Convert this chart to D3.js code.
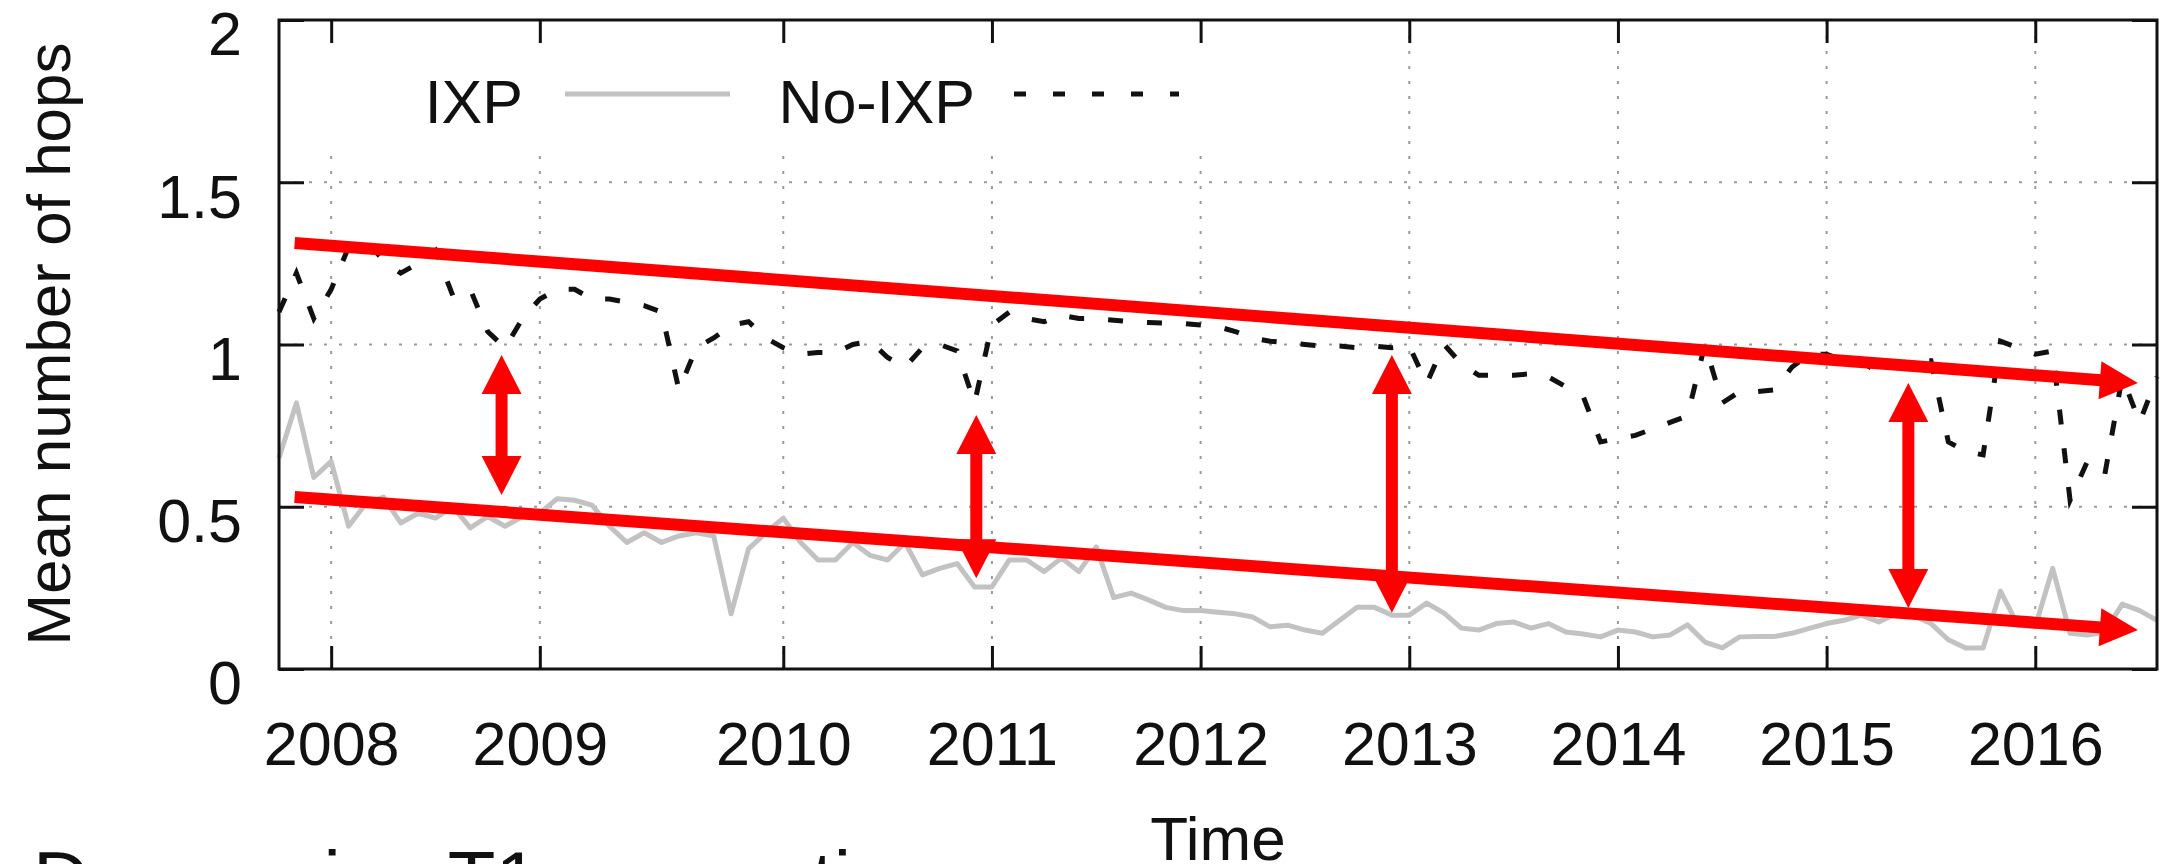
<!DOCTYPE html>
<html>
<head>
<meta charset="utf-8">
<script src="https://cdn.jsdelivr.net/npm/d3@7"></script>
<style>
  html, body { margin: 0; padding: 0; background: #fff; }
  svg { display: block; }
  text { font-family: "Liberation Sans", Arial, sans-serif; fill: #111; }
</style>
</head>
<body>
<div id="chart"></div>
<script>
// data (monthly samples, index 0 = left edge of plot)
const yearLabels = ["2008", "2009", "2010", "2011", "2012", "2013", "2014", "2015", "2016"];
const yearTickIdx = [3, 15, 29, 41, 53, 65, 77, 89, 101];
const yTicks = [0, 0.5, 1, 1.5, 2];
const yTickLabels = ["0", "0.5", "1", "1.5", "2"];
const seriesNames = ["IXP", "No-IXP"];

const ixp = [
    0.65, 0.82, 0.59, 0.64, 0.44, 0.51, 0.53, 0.45, 0.48, 0.465,
    0.50, 0.435, 0.47, 0.44, 0.47, 0.48, 0.525, 0.52, 0.505, 0.44,
    0.39, 0.42, 0.39, 0.41, 0.42, 0.41, 0.17, 0.37, 0.42, 0.465,
    0.39, 0.336, 0.336, 0.39, 0.35, 0.336, 0.39, 0.29, 0.31, 0.325,
    0.253, 0.253, 0.336, 0.336, 0.30, 0.342, 0.30, 0.376, 0.22, 0.234,
    0.213, 0.19, 0.18, 0.18, 0.175, 0.17, 0.16, 0.13, 0.135, 0.12,
    0.11, 0.15, 0.19, 0.19, 0.166, 0.166, 0.203, 0.172, 0.126, 0.12,
    0.14, 0.145, 0.126, 0.14, 0.114, 0.108, 0.099, 0.12, 0.114, 0.099,
    0.105, 0.136, 0.083, 0.065, 0.099, 0.10, 0.10, 0.11, 0.125, 0.14,
    0.15, 0.166, 0.145, 0.17, 0.165, 0.14, 0.09, 0.065, 0.065, 0.24,
    0.135, 0.13, 0.31, 0.11, 0.105, 0.114, 0.20, 0.18, 0.15
];

const noIxp = [
    1.10, 1.22, 1.08, 1.17, 1.30, 1.32, 1.26, 1.22, 1.25, 1.29,
    1.15, 1.17, 1.04, 0.99, 1.08, 1.14, 1.17, 1.17, 1.14, 1.14,
    1.13, 1.12, 1.10, 0.86, 0.99, 1.02, 1.06, 1.07, 1.02, 0.99,
    0.97, 0.975, 0.975, 1.00, 1.01, 0.96, 0.93, 0.99, 1.00, 0.98,
    0.82, 1.06, 1.10, 1.08, 1.07, 1.09, 1.08, 1.08, 1.075, 1.07,
    1.068, 1.066, 1.065, 1.06, 1.055, 1.04, 1.02, 1.01, 1.005, 1.00,
    0.995, 0.995, 0.99, 0.995, 0.99, 0.995, 0.88, 1.00, 0.94, 0.905,
    0.905, 0.905, 0.91, 0.90, 0.87, 0.84, 0.70, 0.71, 0.72, 0.74,
    0.76, 0.78, 1.00, 0.82, 0.855, 0.855, 0.86, 0.93, 0.97, 0.97,
    0.95, 0.95, 0.91, 0.94, 0.95, 0.95, 0.70, 0.67, 0.66, 1.01,
    0.99, 0.97, 0.98, 0.52, 0.64, 0.60, 0.90, 0.76, 0.90
];

// red annotations, in data units (x = sample index)
const trendArrows = [
    {x0: 0.9, y0: 1.313, x1: 106.9, y1: 0.881},
    {x0: 0.9, y0: 0.53, x1: 106.9, y1: 0.12}
];
const gapArrows = [
    {x: 12.8, top: 0.968, bottom: 0.536},
    {x: 40.1, top: 0.783, bottom: 0.28},
    {x: 64.0, top: 0.968, bottom: 0.173},
    {x: 93.7, top: 0.881, bottom: 0.188}
];

const bottomNote = "Decreasing T1 connections";

//setup
const W = 2161, H = 864;
const plot = {left: 279, right: 2157, top: 20, bottom: 669};
const fontSize = 61;

const svg = d3.select("#chart").append("svg")
    .attr("width", W)
    .attr("height", H);

const x = d3.scaleLinear().domain([0, ixp.length - 1]).range([plot.left, plot.right]);
const y = d3.scaleLinear().domain([0, 2]).range([plot.bottom, plot.top]);

// grid
const grid = svg.append("g")
    .attr("stroke", "#9a9a9a")
    .attr("stroke-width", 2)
    .attr("stroke-dasharray", "3,12");
grid.selectAll(".vgrid").data(yearTickIdx).enter().append("line")
    .attr("class", "vgrid")
    .attr("x1", d => x(d)).attr("x2", d => x(d))
    .attr("y1", y(0)).attr("y2", y(2));
grid.selectAll(".hgrid").data(yTicks.filter(d => d > 0 && d < 2)).enter().append("line")
    .attr("class", "hgrid")
    .attr("x1", x.range()[0]).attr("x2", x.range()[1])
    .attr("y1", d => y(d)).attr("y2", d => y(d));

// opaque key box
svg.append("rect")
    .attr("x", plot.left + 2).attr("y", plot.top + 2)
    .attr("width", 924).attr("height", 128)
    .attr("fill", "#fff");

// axes (ticks pointing inward, mirrored)
function styleAxis(g) {
    g.select(".domain").remove();
    g.selectAll(".tick line").attr("stroke", "#111").attr("stroke-width", 3);
    g.selectAll(".tick text")
        .style("font-family", '"Liberation Sans", Arial, sans-serif')
        .style("font-size", fontSize + "px")
        .attr("fill", "#111");
}

svg.append("g")
    .attr("transform", "translate(0," + plot.bottom + ")")
    .call(d3.axisBottom(x).tickValues(yearTickIdx)
        .tickFormat((d, i) => yearLabels[i])
        .tickSizeInner(-23).tickSizeOuter(0).tickPadding(53))
    .call(styleAxis);

svg.append("g")
    .attr("transform", "translate(0," + plot.top + ")")
    .call(d3.axisTop(x).tickValues(yearTickIdx).tickFormat("")
        .tickSizeInner(-23).tickSizeOuter(0))
    .call(styleAxis);

svg.append("g")
    .attr("transform", "translate(" + plot.left + ",0)")
    .call(d3.axisLeft(y).tickValues(yTicks)
        .tickFormat((d, i) => yTickLabels[i])
        .tickSizeInner(-25).tickSizeOuter(0).tickPadding(37))
    .call(styleAxis)
    .selectAll(".tick text").attr("dy", "0.57em");

svg.append("g")
    .attr("transform", "translate(" + plot.right + ",0)")
    .call(d3.axisRight(y).tickValues(yTicks).tickFormat("")
        .tickSizeInner(-25).tickSizeOuter(0))
    .call(styleAxis);

// series
const line = d3.line()
    .x((d, i) => x(i))
    .y(d => y(d));

svg.append("path")
    .datum(ixp)
    .attr("d", line)
    .attr("fill", "none")
    .attr("stroke", "#c2c2c2")
    .attr("stroke-width", 5)
    .attr("stroke-linejoin", "round");

svg.append("path")
    .datum(noIxp)
    .attr("d", line)
    .attr("fill", "none")
    .attr("stroke", "#111")
    .attr("stroke-width", 5)
    .attr("stroke-dasharray", "15,24");

// border
svg.append("rect")
    .attr("x", plot.left).attr("y", plot.top)
    .attr("width", plot.right - plot.left).attr("height", plot.bottom - plot.top)
    .attr("fill", "none")
    .attr("stroke", "#111")
    .attr("stroke-width", 3);

// legend
const key = svg.append("g").style("font-size", fontSize + "px");
key.append("text").attr("x", 523).attr("y", 123).attr("text-anchor", "end").text(seriesNames[0]);
key.append("line").attr("x1", 565).attr("x2", 730).attr("y1", 94).attr("y2", 94)
    .attr("stroke", "#c2c2c2").attr("stroke-width", 5);
key.append("text").attr("x", 975).attr("y", 123).attr("text-anchor", "end").text(seriesNames[1]);
key.append("line").attr("x1", 1014).attr("x2", 1179).attr("y1", 94).attr("y2", 94)
    .attr("stroke", "#111").attr("stroke-width", 5).attr("stroke-dasharray", "12,27");

// axis titles
svg.append("text")
    .attr("transform", "translate(70,344) rotate(-90)")
    .attr("text-anchor", "middle")
    .style("font-size", "62px")
    .text("Mean number of hops");

svg.append("text")
    .attr("x", (plot.left + plot.right) / 2)
    .attr("y", 860)
    .attr("text-anchor", "middle")
    .style("font-size", "62px")
    .text("Time");

// red annotations
const red = "#ff0000";
const ann = svg.append("g");

function arrowHead(tx, ty, ux, uy, len, half) {
    const bx = tx - ux * len, by = ty - uy * len;
    const nx = -uy, ny = ux;
    return [[tx, ty], [bx + nx * half, by + ny * half], [bx - nx * half, by - ny * half]];
}

trendArrows.forEach(a => {
    const sx = x(a.x0), sy = y(a.y0), tx = x(a.x1), ty = y(a.y1);
    const L = Math.hypot(tx - sx, ty - sy);
    const ux = (tx - sx) / L, uy = (ty - sy) / L;
    ann.append("line")
        .attr("x1", sx).attr("y1", sy)
        .attr("x2", tx - ux * 30).attr("y2", ty - uy * 30)
        .attr("stroke", red).attr("stroke-width", 12);
    ann.append("polygon")
        .attr("points", arrowHead(tx, ty, ux, uy, 38, 19).join(" "))
        .attr("fill", red);
});

gapArrows.forEach(a => {
    const px = x(a.x), t = y(a.top), b = y(a.bottom);
    ann.append("line")
        .attr("x1", px).attr("x2", px)
        .attr("y1", t + 30).attr("y2", b - 30)
        .attr("stroke", red).attr("stroke-width", 12);
    ann.append("polygon")
        .attr("points", arrowHead(px, t, 0, -1, 39, 20).join(" "))
        .attr("fill", red);
    ann.append("polygon")
        .attr("points", arrowHead(px, b, 0, 1, 39, 20).join(" "))
        .attr("fill", red);
});

// slide caption, cut off at the bottom edge like in the source slide
svg.append("text")
    .attr("x", 33)
    .attr("y", 906)
    .style("font-size", "78px")
    .text(bottomNote);
</script>
</body>
</html>
